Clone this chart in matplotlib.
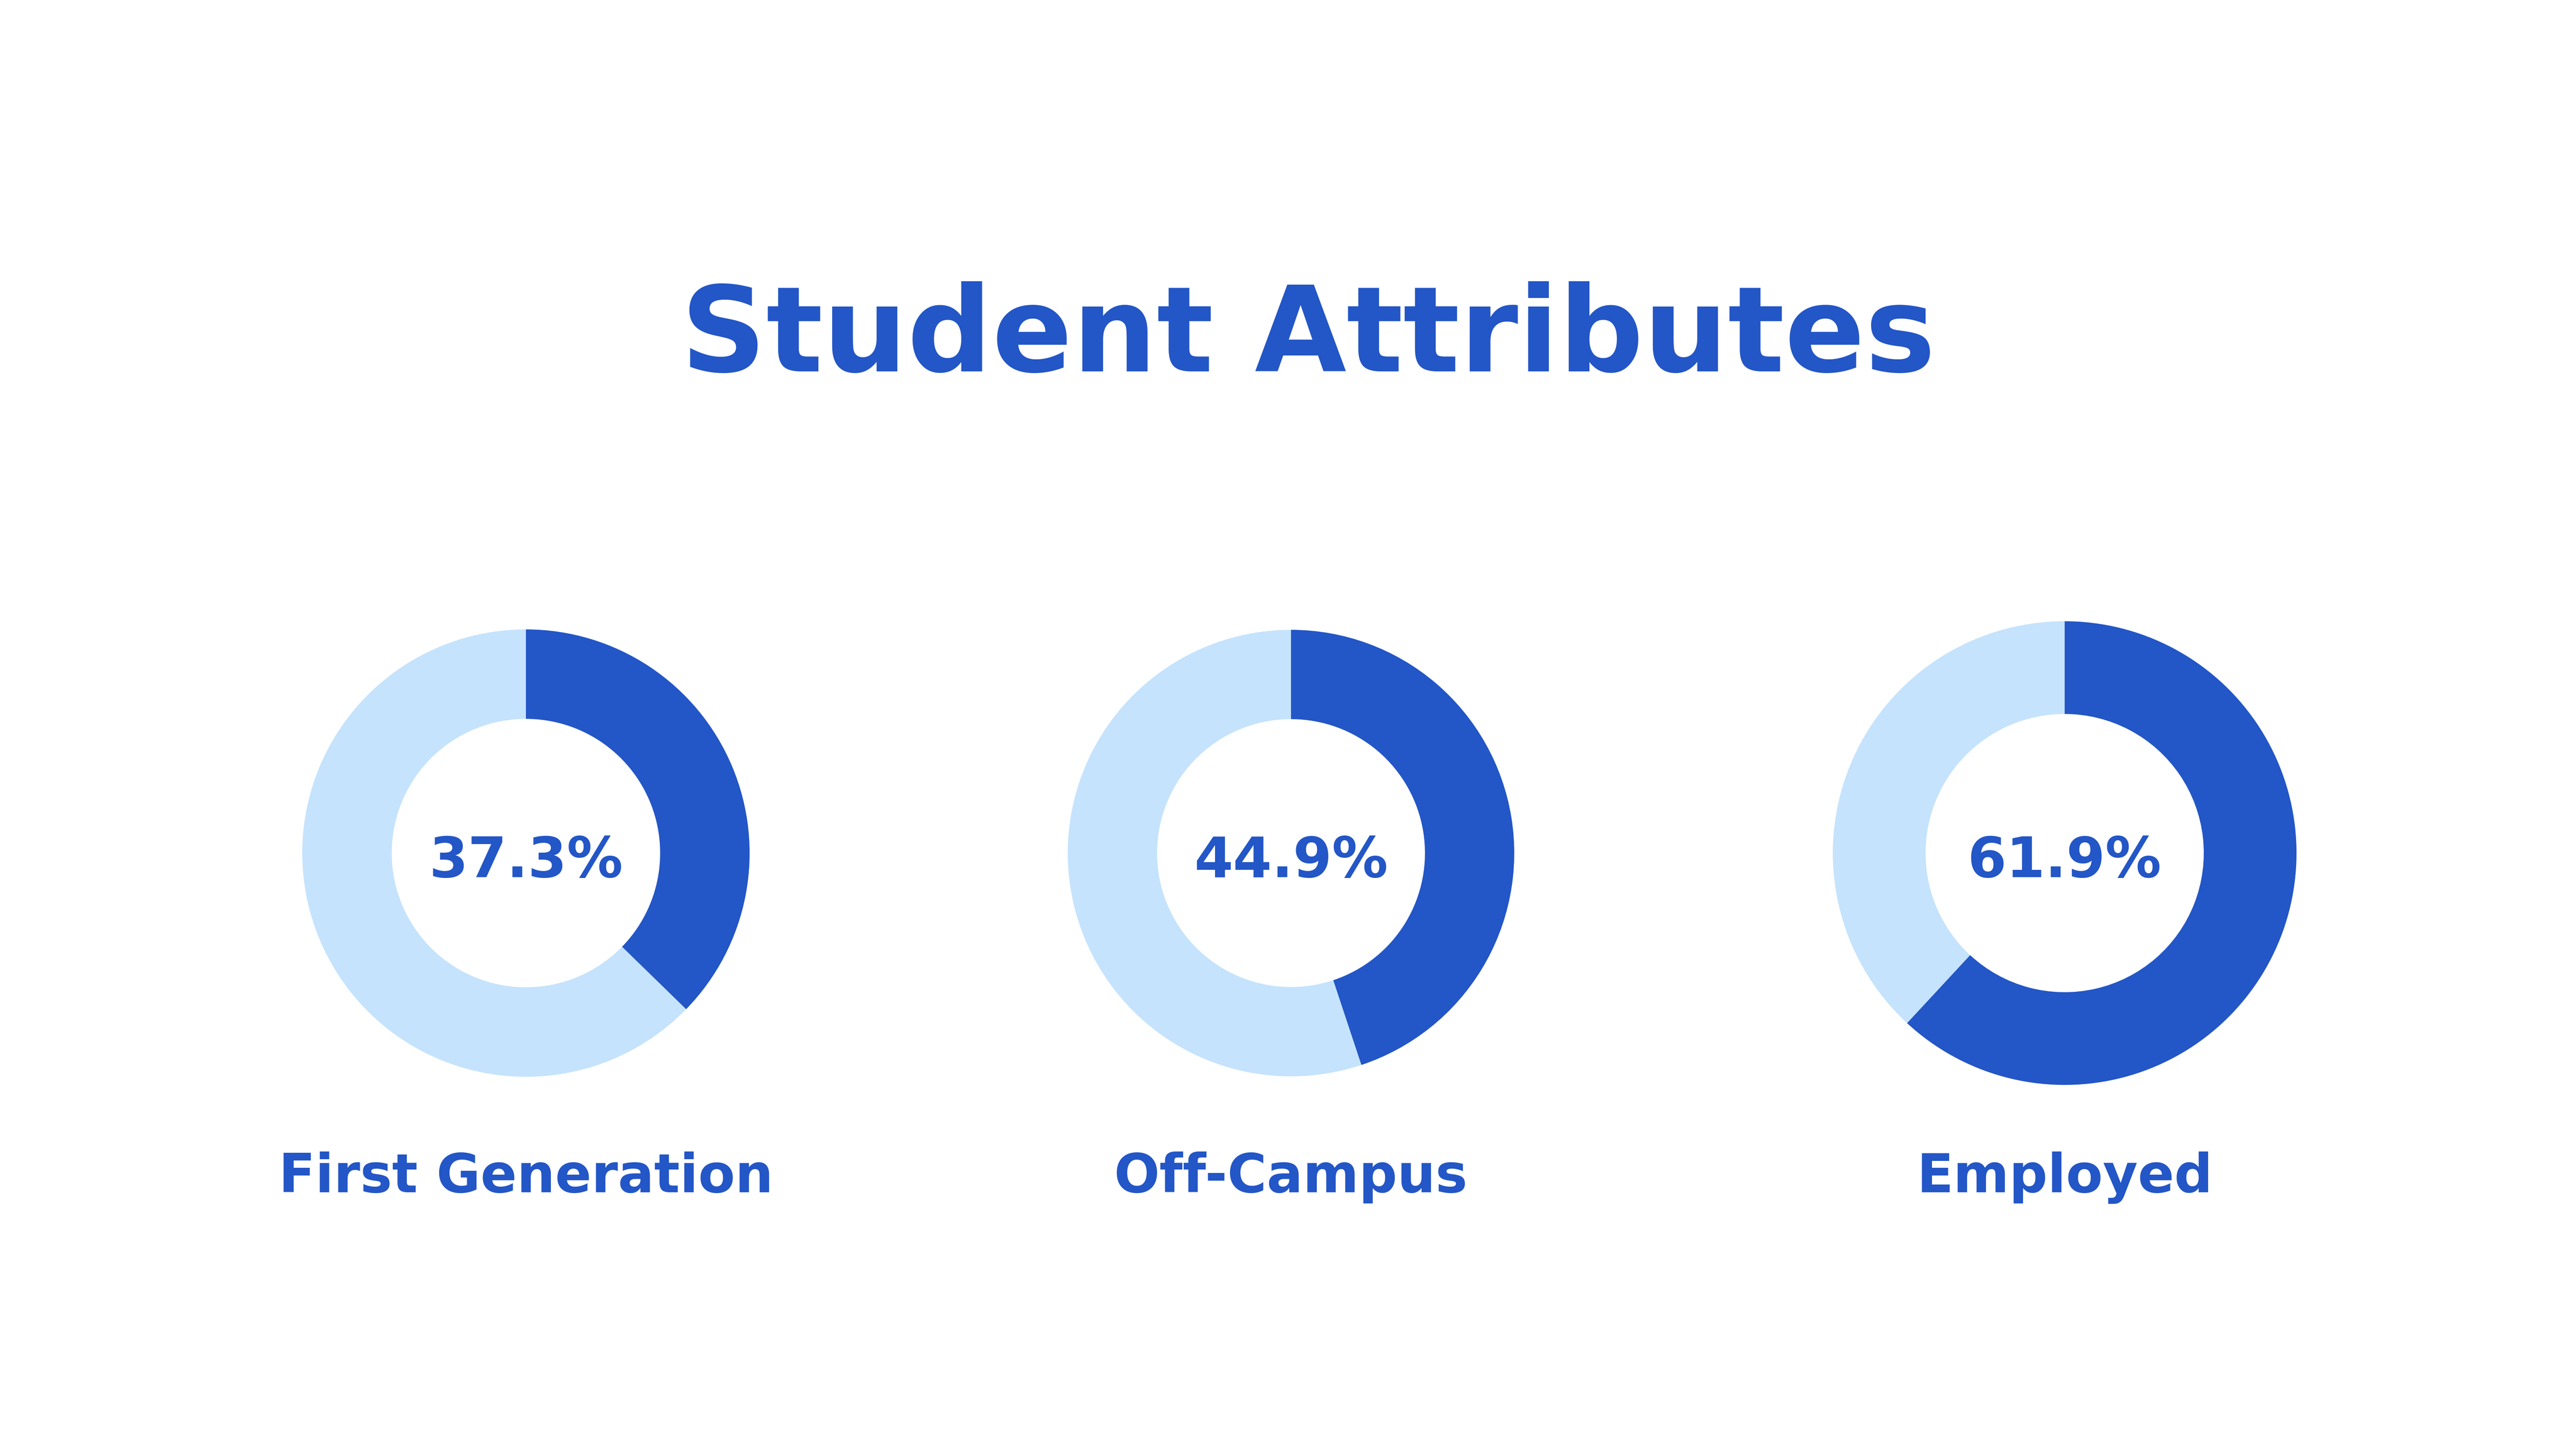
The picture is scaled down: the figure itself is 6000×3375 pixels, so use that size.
import matplotlib
matplotlib.use("Agg")
import matplotlib.pyplot as plt

# data
labels = ["First Generation", "Off-Campus", "Employed"]
percents = [37.3, 44.9, 61.9]
title = "Student Attributes"

DARK = "#2356C6"
LIGHT = "#C5E3FC"

W, H = 6000, 3375
fig = plt.figure(figsize=(16, 9), dpi=375)
fig.patch.set_facecolor("white")

plt.rcParams['font.family'] = ['DejaVu Sans']

# layout in pixels (center x, center y from top, outer radius)
layout = [(1225, 1987, 521), (3007, 1987, 520), (4809, 1987, 540)]

for (cx, cy, r), pct, lab in zip(layout, percents, labels):
    ax = fig.add_axes([(cx - r) / W, 1 - (cy + r) / H, 2 * r / W, 2 * r / H])
    ax.pie([pct, 100 - pct], colors=[DARK, LIGHT], startangle=90,
           counterclock=False, radius=1,
           wedgeprops=dict(width=0.4, linewidth=0))
    ax.set_xlim(-1, 1)
    ax.set_ylim(-1, 1)
    ax.set_aspect('equal')
    ax.axis('off')

    fig.text(cx / W, 1 - 2043 / H, f"{pct:.1f}%", ha='center', va='baseline',
             fontsize=25, fontweight='bold', color=DARK)
    fig.text(cx / W, 1 - 2777 / H, lab, ha='center', va='baseline',
             fontsize=24, fontweight='bold', color=DARK)

fig.text(3047 / W, 1 - 865 / H, title, ha='center', va='baseline',
         fontsize=53, fontweight='bold', color=DARK)

fig.savefig("out.png", dpi=375, facecolor="white")
